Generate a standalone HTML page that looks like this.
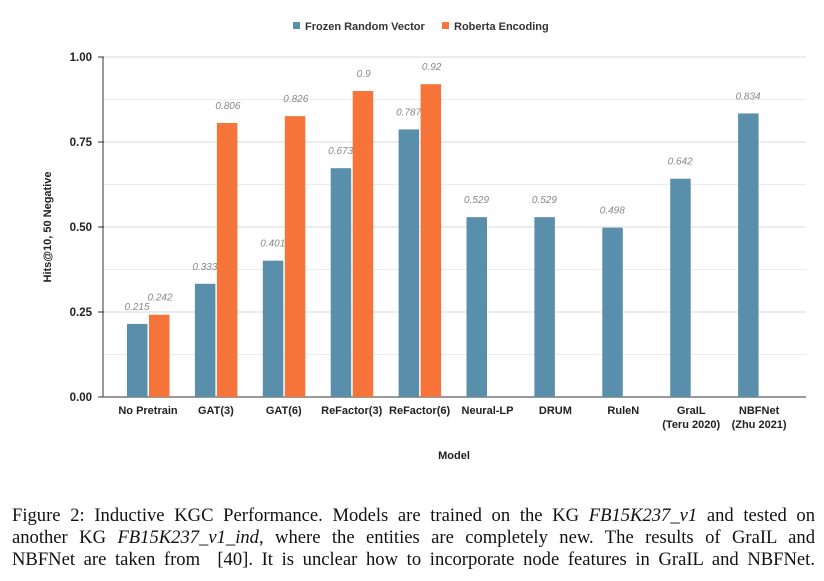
<!DOCTYPE html>
<html><head><meta charset="utf-8"><style>
body{margin:0;background:#fff;width:824px;height:581px;overflow:hidden;font-family:"Liberation Sans",sans-serif}
#cap{position:absolute;left:12px;top:505px;width:803px;font-family:"Liberation Serif",serif;font-size:18.6px;line-height:22px;color:#111}
#cap div{text-align:justify;text-align-last:justify;white-space:nowrap}
</style></head><body>
<svg id="chart" width="824" height="500" style="position:absolute;left:0;top:0"></svg>
<div id="cap">
<div>Figure 2: Inductive KGC Performance. Models are trained on the KG <i>FB15K237_v1</i> and tested on</div>
<div>another KG <i>FB15K237_v1_ind</i>, where the entities are completely new. The results of GraIL and</div>
<div>NBFNet are taken from &nbsp;[40]. It is unclear how to incorporate node features in GraIL and NBFNet.</div>
</div>
<script>
const categories=["No Pretrain","GAT(3)","GAT(6)","ReFactor(3)","ReFactor(6)","Neural-LP","DRUM","RuleN","GraIL|(Teru 2020)","NBFNet|(Zhu 2021)"];
const frozen=[0.215,0.333,0.401,0.673,0.787,0.529,0.529,0.498,0.642,0.834];
const roberta=[0.242,0.806,0.826,0.9,0.92,null,null,null,null,null];
const ticks=[0,0.25,0.5,0.75,1];
const ns="http://www.w3.org/2000/svg";
const svg=document.getElementById("chart");
const y=v=>397-v*340;
const xc=i=>148+67.9*i;
function mk(t,a,p){const e=document.createElementNS(ns,t);for(const k in a)e.setAttribute(k,a[k]);(p||svg).appendChild(e);return e;}
for(let v=0.125;v<1.01;v+=0.125){const g=mk("line",{x1:104,x2:806,y1:y(v),y2:y(v),stroke:Math.abs(v*4-Math.round(v*4))<1e-6?"#d8d8d8":"#ececec","stroke-width":1});

}
ticks.forEach(v=>{const t=mk("text",{x:92,y:y(v)+4,"text-anchor":"end","font-size":11.5,"font-weight":"bold",fill:"#222"});t.textContent=v.toFixed(2);


mk("line",{x1:98,x2:104,y1:y(v),y2:y(v),stroke:"#333"});});
const ax=mk("line",{x1:103,x2:103,y1:57,y2:397,stroke:"#333"});


const bx=mk("line",{x1:103,x2:806,y1:397,y2:397,stroke:"#333"});


function label(x,yy,v){const t=mk("text",{x:x,y:yy,"text-anchor":"middle","font-size":10,"font-style":"italic",fill:"#888"});t.textContent=String(v);

}
categories.forEach((c,i)=>{
 const x=xc(i);
 const b=mk("rect",{x:x-21,y:y(frozen[i]),width:20.5,height:397-y(frozen[i]),fill:"#5a8fac"});
 
 
 label(x-11,y(frozen[i])-14,frozen[i]);
 if(roberta[i]!=null){const r=mk("rect",{x:x+1,y:y(roberta[i]),width:20.5,height:397-y(roberta[i]),fill:"#f6733a"});
 
 
 label(x+12,y(roberta[i])-14,roberta[i]);}
 c.split("|").forEach((l,j)=>{const t=mk("text",{x:x,y:414+j*14,"text-anchor":"middle","font-size":11,"font-weight":"bold",fill:"#222"});t.textContent=l;
 
 });
});
const xt=mk("text",{x:454,y:459,"text-anchor":"middle","font-size":11,"font-weight":"bold",fill:"#222"});xt.textContent="Model";


const yt=mk("text",{x:0,y:0,transform:"translate(51,227) rotate(-90)","text-anchor":"middle","font-size":11,"font-weight":"bold",fill:"#222"});yt.textContent="Hits@10, 50 Negative";


[["Frozen Random Vector","#5a8fac",293],["Roberta Encoding","#f6733a",442]].forEach(([n,c,x])=>{
 const g=mk("g",{});
 
 
 mk("rect",{x:x,y:22,width:7,height:7,fill:c},g);
 const t=mk("text",{x:x+12,y:30,"font-size":11,"font-weight":"bold",fill:"#333"},g);t.textContent=n;});
</script>
</body></html>
